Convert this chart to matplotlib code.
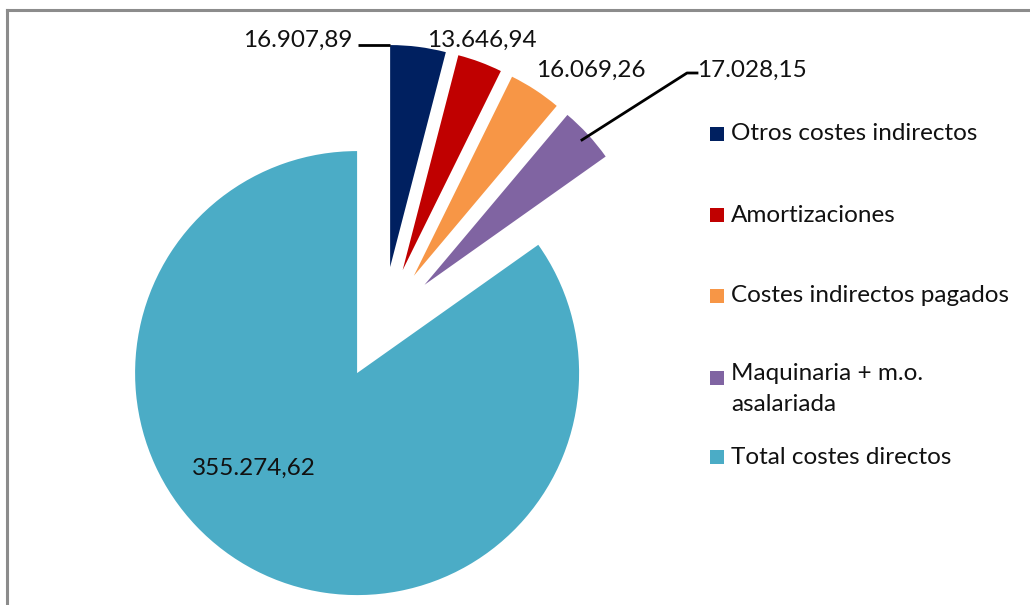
import matplotlib
matplotlib.use("Agg")
import matplotlib.pyplot as plt
import numpy as np
from matplotlib.patches import Rectangle
from matplotlib.lines import Line2D

# Cost breakdown (EUR)
categories = ["Otros costes indirectos", "Amortizaciones", "Costes indirectos pagados",
              "Maquinaria + m.o.\nasalariada", "Total costes directos"]
values = [16907.89, 13646.94, 16069.26, 17028.15, 355274.62]
colors = ["#002060", "#C00000", "#F79646", "#8064A2", "#4BACC6"]


def fmt_es(v):
    s = f"{v:,.2f}"
    return s.replace(",", "X").replace(".", ",").replace("X", ".")


plt.rcParams["font.family"] = ["Lato", "DejaVu Sans"]

W, H = 1030, 605
fig = plt.figure(figsize=(W / 100, H / 100), dpi=100)
ax = fig.add_axes([0, 0, 1, 1])

R = 222
cx, cy = 383, H - 323
wedges, _ = ax.pie(values, colors=colors, startangle=90, counterclock=False,
                   explode=[0.254 * R] * len(values), radius=R, center=(cx, cy),
                   wedgeprops=dict(linewidth=0))
ax.set_xlim(0, W)
ax.set_ylim(0, H)
ax.set_aspect("equal")
ax.axis("off")

fs = 17.5
tc = "#111111"
labels = [fmt_es(v) for v in values]


def arc_point(w, ang, rad=None):
    a = np.deg2rad(ang)
    r = w.r if rad is None else rad
    return w.center[0] + r * np.cos(a), w.center[1] + r * np.sin(a)


# Otros costes indirectos: leader to the upper corner of the wedge
w = wedges[0]
px, py = arc_point(w, w.theta2)
ax.plot([px - 32, px], [py, py], color="black", lw=2, solid_capstyle="butt")
ax.text(px - 38, H - 40, labels[0], ha="right", va="center", fontsize=fs, color=tc)

# Amortizaciones
ax.text(482, H - 40, labels[1], ha="center", va="center", fontsize=fs, color=tc)

# Costes indirectos pagados
ax.text(591, H - 70, labels[2], ha="center", va="center", fontsize=fs, color=tc)

# Maquinaria + m.o. asalariada: leader from the outer arc
w = wedges[3]
mid = (w.theta1 + w.theta2) / 2
lx, ly = arc_point(w, mid, w.r - 8)
ax.plot([lx, 687, 697], [ly, H - 73, H - 73], color="black", lw=2)
ax.text(697, H - 70, labels[3], ha="left", va="center", fontsize=fs, color=tc)

# Total costes directos
ax.text(254, H - 468, labels[4], ha="center", va="center", fontsize=fs, color=tc)

# Legend
rows_y = [134, 215, 296, 378, 457]
for col, lab, ry in zip(colors, categories, rows_y):
    ax.add_patch(Rectangle((710, H - ry - 7), 14, 14, facecolor=col, edgecolor="none"))
    if "\n" in lab:
        ax.text(731, H - ry + 15, lab, ha="left", va="top", fontsize=fs,
                color=tc, linespacing=1.6)
    else:
        ax.text(731, H - ry, lab, ha="left", va="center", fontsize=fs, color=tc)

# Chart border (top and left edges)
fig.add_artist(Line2D([7 / W, 1], [1 - 10 / H, 1 - 10 / H], color="#8C8C8C", lw=2.2,
                      transform=fig.transFigure))
fig.add_artist(Line2D([7 / W, 7 / W], [0, 1 - 10 / H], color="#8C8C8C", lw=2.2,
                      transform=fig.transFigure))

fig.savefig("out.png", dpi=100, facecolor="white")
